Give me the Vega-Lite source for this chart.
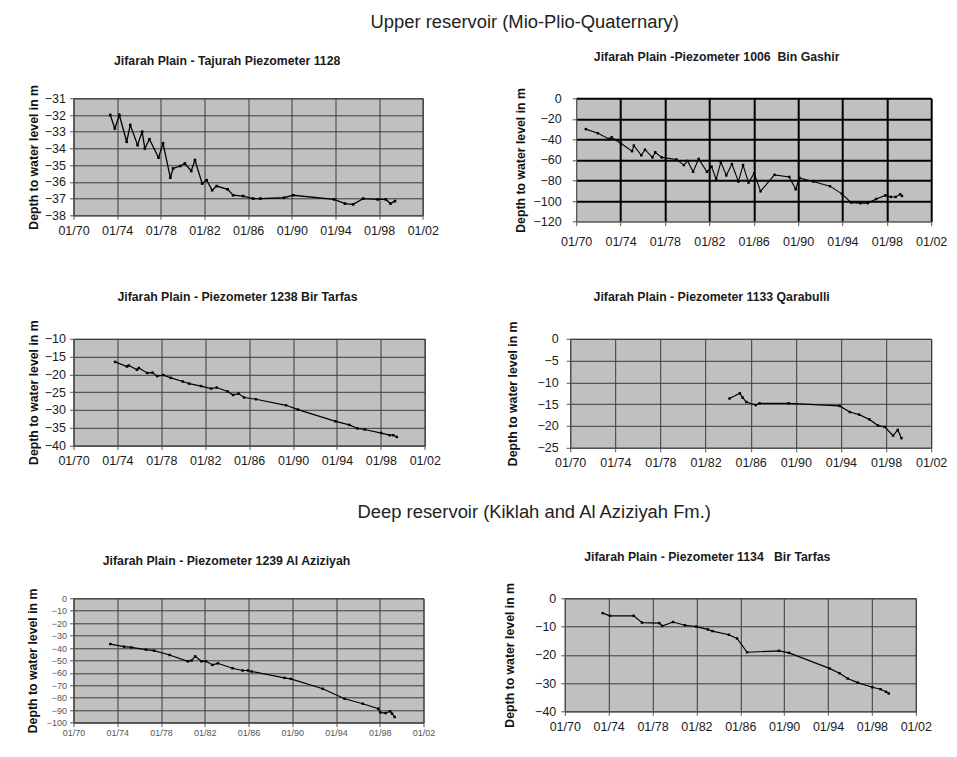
{
  "$schema": "https://vega.github.io/schema/vega-lite/v6.json",
  "background": "white",
  "padding": {"left": 24.5, "top": 12.3, "right": 4, "bottom": 4},
  "datasets": {
    "p1128": [
      {"date": "1973/05/15", "depth": -32.0}, {"date": "1973/10/15", "depth": -32.8},
      {"date": "1974/03/15", "depth": -32.0}, {"date": "1974/11/15", "depth": -33.6},
      {"date": "1975/03/15", "depth": -32.6}, {"date": "1975/11/15", "depth": -33.8},
      {"date": "1976/04/15", "depth": -33.0}, {"date": "1976/07/15", "depth": -34.0},
      {"date": "1976/12/15", "depth": -33.45}, {"date": "1977/10/15", "depth": -34.55},
      {"date": "1978/03/15", "depth": -33.7}, {"date": "1978/11/15", "depth": -35.75},
      {"date": "1979/02/15", "depth": -35.2}, {"date": "1979/10/15", "depth": -35.05},
      {"date": "1980/03/15", "depth": -34.9}, {"date": "1980/10/15", "depth": -35.35},
      {"date": "1981/02/15", "depth": -34.7}, {"date": "1981/10/15", "depth": -36.1},
      {"date": "1982/03/15", "depth": -35.9}, {"date": "1982/09/15", "depth": -36.5},
      {"date": "1983/02/15", "depth": -36.25}, {"date": "1984/02/15", "depth": -36.45},
      {"date": "1984/08/15", "depth": -36.8}, {"date": "1985/07/15", "depth": -36.85},
      {"date": "1986/06/15", "depth": -37.0}, {"date": "1987/02/15", "depth": -37.0},
      {"date": "1989/04/15", "depth": -36.95}, {"date": "1990/02/15", "depth": -36.8},
      {"date": "1993/11/15", "depth": -37.05}, {"date": "1994/11/15", "depth": -37.3},
      {"date": "1995/08/15", "depth": -37.35}, {"date": "1996/07/15", "depth": -37.0},
      {"date": "1997/11/15", "depth": -37.05}, {"date": "1998/08/15", "depth": -37.05},
      {"date": "1999/01/15", "depth": -37.3}, {"date": "1999/06/15", "depth": -37.15}
    ],
    "p1006": [
      {"date": "1970/11/15", "depth": -30}, {"date": "1971/12/15", "depth": -34},
      {"date": "1972/12/15", "depth": -39.5}, {"date": "1973/03/15", "depth": -38},
      {"date": "1974/01/15", "depth": -44}, {"date": "1975/01/15", "depth": -51.5},
      {"date": "1975/03/15", "depth": -46}, {"date": "1975/11/15", "depth": -55.5},
      {"date": "1976/03/15", "depth": -50}, {"date": "1976/11/15", "depth": -57.5},
      {"date": "1977/02/15", "depth": -52.5}, {"date": "1977/09/15", "depth": -57.5},
      {"date": "1979/01/15", "depth": -59.5}, {"date": "1979/09/15", "depth": -65},
      {"date": "1980/01/15", "depth": -61}, {"date": "1980/07/15", "depth": -71.5},
      {"date": "1981/01/15", "depth": -59}, {"date": "1981/10/15", "depth": -71.5},
      {"date": "1982/03/15", "depth": -66.5}, {"date": "1982/08/15", "depth": -79},
      {"date": "1983/01/15", "depth": -62}, {"date": "1983/07/15", "depth": -75},
      {"date": "1984/01/15", "depth": -64}, {"date": "1984/08/15", "depth": -81},
      {"date": "1985/01/15", "depth": -65}, {"date": "1985/07/15", "depth": -82},
      {"date": "1986/01/15", "depth": -73}, {"date": "1986/08/15", "depth": -90.5},
      {"date": "1987/11/15", "depth": -74.5}, {"date": "1989/03/15", "depth": -76.5},
      {"date": "1989/10/15", "depth": -88.5}, {"date": "1990/02/15", "depth": -77.5},
      {"date": "1991/05/15", "depth": -81}, {"date": "1992/11/15", "depth": -85.5},
      {"date": "1993/12/15", "depth": -93}, {"date": "1994/10/15", "depth": -101.5},
      {"date": "1995/08/15", "depth": -102}, {"date": "1996/04/15", "depth": -102},
      {"date": "1997/01/15", "depth": -98}, {"date": "1997/11/15", "depth": -94.5},
      {"date": "1998/05/15", "depth": -96}, {"date": "1998/10/15", "depth": -96},
      {"date": "1999/03/15", "depth": -93.5}, {"date": "1999/05/15", "depth": -95}
    ],
    "p1238": [
      {"date": "1973/10/15", "depth": -16.5}, {"date": "1974/11/15", "depth": -17.8},
      {"date": "1975/01/15", "depth": -17.5}, {"date": "1975/10/15", "depth": -18.7},
      {"date": "1975/12/15", "depth": -18.2}, {"date": "1976/09/15", "depth": -19.6},
      {"date": "1977/03/15", "depth": -19.5}, {"date": "1977/08/15", "depth": -20.5},
      {"date": "1978/03/15", "depth": -20.2}, {"date": "1978/11/15", "depth": -21.0},
      {"date": "1979/12/15", "depth": -22.0}, {"date": "1980/07/15", "depth": -22.6},
      {"date": "1981/08/15", "depth": -23.3}, {"date": "1982/07/15", "depth": -24.0},
      {"date": "1983/01/15", "depth": -23.7}, {"date": "1984/01/15", "depth": -24.8},
      {"date": "1984/07/15", "depth": -25.8}, {"date": "1985/01/15", "depth": -25.4},
      {"date": "1985/07/15", "depth": -26.5}, {"date": "1986/08/15", "depth": -27.0},
      {"date": "1989/05/15", "depth": -28.7}, {"date": "1990/06/15", "depth": -29.9},
      {"date": "1993/11/15", "depth": -33.2}, {"date": "1995/02/15", "depth": -34.2},
      {"date": "1995/11/15", "depth": -35.2}, {"date": "1996/07/15", "depth": -35.5},
      {"date": "1998/01/15", "depth": -36.5}, {"date": "1998/10/15", "depth": -37.1},
      {"date": "1999/02/15", "depth": -37.1}, {"date": "1999/06/15", "depth": -37.6}
    ],
    "p1133": [
      {"date": "1984/02/15", "depth": -13.7}, {"date": "1985/01/15", "depth": -12.5},
      {"date": "1985/04/15", "depth": -13.5}, {"date": "1985/08/15", "depth": -14.5},
      {"date": "1986/06/15", "depth": -15.2}, {"date": "1986/10/15", "depth": -14.8},
      {"date": "1989/05/15", "depth": -14.8}, {"date": "1993/11/15", "depth": -15.4},
      {"date": "1994/10/15", "depth": -16.8}, {"date": "1995/08/15", "depth": -17.4},
      {"date": "1996/07/15", "depth": -18.5}, {"date": "1997/04/15", "depth": -19.9},
      {"date": "1997/11/15", "depth": -20.2}, {"date": "1998/08/15", "depth": -22.2},
      {"date": "1999/01/15", "depth": -20.9}, {"date": "1999/05/15", "depth": -22.8}
    ],
    "p1239": [
      {"date": "1973/05/15", "depth": -36.8}, {"date": "1974/08/15", "depth": -38.9},
      {"date": "1975/04/15", "depth": -39.5}, {"date": "1976/08/15", "depth": -41.3},
      {"date": "1977/05/15", "depth": -42.1}, {"date": "1978/10/15", "depth": -45.6},
      {"date": "1980/06/15", "depth": -50.7}, {"date": "1980/10/15", "depth": -50.1},
      {"date": "1981/02/15", "depth": -46.7}, {"date": "1981/09/15", "depth": -50.7},
      {"date": "1982/02/15", "depth": -50.7}, {"date": "1982/09/15", "depth": -53.6},
      {"date": "1983/03/15", "depth": -52.3}, {"date": "1984/07/15", "depth": -56.3},
      {"date": "1985/06/15", "depth": -58.1}, {"date": "1985/12/15", "depth": -58.1},
      {"date": "1986/04/15", "depth": -58.9}, {"date": "1989/04/15", "depth": -64.0},
      {"date": "1989/11/15", "depth": -64.8}, {"date": "1992/10/15", "depth": -72.8},
      {"date": "1994/10/15", "depth": -80.8}, {"date": "1996/06/15", "depth": -84.8},
      {"date": "1997/11/15", "depth": -88.8}, {"date": "1998/01/15", "depth": -91.8},
      {"date": "1998/07/15", "depth": -92.3}, {"date": "1998/12/15", "depth": -90.9},
      {"date": "1999/02/15", "depth": -92.8}, {"date": "1999/05/15", "depth": -95.5}
    ],
    "p1134": [
      {"date": "1973/06/15", "depth": -5.25}, {"date": "1974/02/15", "depth": -6.2},
      {"date": "1976/04/15", "depth": -6.2}, {"date": "1977/01/15", "depth": -8.6},
      {"date": "1978/08/15", "depth": -8.8}, {"date": "1978/11/15", "depth": -9.8},
      {"date": "1979/11/15", "depth": -8.4}, {"date": "1980/12/15", "depth": -9.55},
      {"date": "1981/12/15", "depth": -10.0}, {"date": "1983/01/15", "depth": -11.0},
      {"date": "1983/06/15", "depth": -11.6}, {"date": "1984/12/15", "depth": -12.9},
      {"date": "1985/09/15", "depth": -14.2}, {"date": "1986/08/15", "depth": -19.1},
      {"date": "1989/07/15", "depth": -18.6}, {"date": "1990/06/15", "depth": -19.3},
      {"date": "1994/02/15", "depth": -24.8}, {"date": "1995/01/15", "depth": -26.5},
      {"date": "1995/10/15", "depth": -28.4}, {"date": "1996/09/15", "depth": -29.85},
      {"date": "1998/01/15", "depth": -31.5}, {"date": "1998/10/15", "depth": -32.2},
      {"date": "1999/04/15", "depth": -33.1}, {"date": "1999/07/15", "depth": -33.7}
    ]
  },
  "vconcat": [
    {
      "title": {"text": "Upper reservoir (Mio-Plio-Quaternary)", "fontSize": 18.4, "fontWeight": "normal", "color": "#222", "frame": "bounds", "anchor": "middle", "dx": 37.5, "offset": 19.8},
      "spacing": 40.5,
      "vconcat": [
        {
          "bounds": "flush",
          "spacing": 152.7,
          "hconcat": [
            {
              "data": {"name": "p1128"},
              "width": 349.3, "height": 117,
              "title": {"text": "Jifarah Plain - Tajurah Piezometer 1128", "dx": -21, "offset": 17.4},
              "layer": [
                {"mark": {"type": "line", "color": "#000", "strokeWidth": 1.3}},
                {"mark": {"type": "point", "shape": "square", "filled": true, "size": 7, "color": "#000", "opacity": 1}}
              ],
              "encoding": {
                "x": {"field": "date", "type": "temporal",
                  "scale": {"domain": [{"year": 1970}, {"year": 2002}]},
                  "axis": {"title": null, "format": "%m/%y", "labelPadding": 5,
                    "values": [{"year": 1970}, {"year": 1974}, {"year": 1978}, {"year": 1982}, {"year": 1986}, {"year": 1990}, {"year": 1994}, {"year": 1998}, {"year": 2002}]}},
                "y": {"field": "depth", "type": "quantitative",
                  "scale": {"domain": [-38, -31], "nice": false, "zero": false},
                  "axis": {"title": "Depth to water level in m", "titleX": -33, "labelPadding": 4,
                    "values": [-38, -37, -36, -35, -34, -33, -32, -31]}}
              }
            },
            {
              "data": {"name": "p1006"},
              "width": 355, "height": 123.3,
              "view": {"stroke": null},
              "title": {"text": "Jifarah Plain -Piezometer 1006 \u00a0Bin Gashir", "dx": -37, "offset": 24.25},
              "layer": [
                {"mark": {"type": "line", "color": "#000", "strokeWidth": 1.1}},
                {"mark": {"type": "point", "shape": "square", "filled": true, "size": 6, "color": "#000", "opacity": 1}}
              ],
              "encoding": {
                "x": {"field": "date", "type": "temporal",
                  "scale": {"domain": [{"year": 1970}, {"year": 2002}]},
                  "axis": {"title": null, "format": "%m/%y", "labelPadding": 10.3,
                    "gridColor": {"condition": {"test": "year(datum.value) == 1970", "value": "#555"}, "value": "#000"},
                    "gridWidth": {"condition": {"test": "year(datum.value) == 1970", "value": 1}, "value": 2},
                    "values": [{"year": 1970}, {"year": 1974}, {"year": 1978}, {"year": 1982}, {"year": 1986}, {"year": 1990}, {"year": 1994}, {"year": 1998}, {"year": 2002}]}},
                "y": {"field": "depth", "type": "quantitative",
                  "scale": {"domain": [-120, 0], "nice": false, "zero": false},
                  "axis": {"title": "Depth to water level in m", "titleX": -48.2, "labelPadding": 11,
                    "gridColor": {"condition": {"test": "datum.value == -120", "value": "#555"}, "value": "#000"},
                    "gridWidth": {"condition": {"test": "datum.value == -120", "value": 1}, "value": 2},
                    "values": [-120, -100, -80, -60, -40, -20, 0]}}
              }
            }
          ]
        },
        {
          "bounds": "flush",
          "spacing": 144.7,
          "hconcat": [
            {
              "data": {"name": "p1238"},
              "width": 351.3, "height": 106.7,
              "title": {"text": "Jifarah Plain - Piezometer 1238 Bir Tarfas", "dx": -11.7, "offset": 16.35},
              "layer": [
                {"mark": {"type": "line", "color": "#000", "strokeWidth": 1.2}},
                {"mark": {"type": "point", "shape": "square", "filled": true, "size": 6, "color": "#000", "opacity": 1}}
              ],
              "encoding": {
                "x": {"field": "date", "type": "temporal",
                  "scale": {"domain": [{"year": 1970}, {"year": 2002}]},
                  "axis": {"title": null, "format": "%m/%y", "labelPadding": 5,
                    "values": [{"year": 1970}, {"year": 1974}, {"year": 1978}, {"year": 1982}, {"year": 1986}, {"year": 1990}, {"year": 1994}, {"year": 1998}, {"year": 2002}]}},
                "y": {"field": "depth", "type": "quantitative",
                  "scale": {"domain": [-40, -10], "nice": false, "zero": false},
                  "axis": {"title": "Depth to water level in m", "titleX": -33, "labelPadding": 4,
                    "values": [-40, -35, -30, -25, -20, -15, -10]}}
              }
            },
            {
              "data": {"name": "p1133"},
              "width": 361, "height": 109,
              "title": {"text": "Jifarah Plain - Piezometer 1133 Qarabulli", "dx": -39, "offset": 17.5},
              "layer": [
                {"mark": {"type": "line", "color": "#000", "strokeWidth": 1.2}},
                {"mark": {"type": "point", "shape": "square", "filled": true, "size": 6, "color": "#000", "opacity": 1}}
              ],
              "encoding": {
                "x": {"field": "date", "type": "temporal",
                  "scale": {"domain": [{"year": 1970}, {"year": 2002}]},
                  "axis": {"title": null, "format": "%m/%y", "labelPadding": 5,
                    "values": [{"year": 1970}, {"year": 1974}, {"year": 1978}, {"year": 1982}, {"year": 1986}, {"year": 1990}, {"year": 1994}, {"year": 1998}, {"year": 2002}]}},
                "y": {"field": "depth", "type": "quantitative",
                  "scale": {"domain": [-25, 0], "nice": false, "zero": false},
                  "axis": {"title": "Depth to water level in m", "titleX": -50.7, "labelPadding": 8,
                    "values": [-25, -20, -15, -10, -5, 0]}}
              }
            }
          ]
        }
      ]
    },
    {
      "title": {"text": "Deep reservoir (Kiklah and Al Aziziyah Fm.)", "fontSize": 18.4, "fontWeight": "normal", "color": "#222", "frame": "bounds", "anchor": "middle", "dx": 55.5, "offset": 29.1},
      "bounds": "flush",
      "spacing": 141.3,
      "hconcat": [
        {
          "data": {"name": "p1239"},
          "width": 350, "height": 124.3,
          "title": {"text": "Jifarah Plain - Piezometer 1239 Al Aziziyah", "dx": -22, "offset": 21.15},
          "layer": [
            {"mark": {"type": "line", "color": "#000", "strokeWidth": 1.2}},
            {"mark": {"type": "point", "shape": "square", "filled": true, "size": 6, "color": "#000", "opacity": 1}}
          ],
          "encoding": {
            "x": {"field": "date", "type": "temporal",
              "scale": {"domain": [{"year": 1970}, {"year": 2002}]},
              "axis": {"title": null, "format": "%m/%y", "labelPadding": 2, "labelFontSize": 9, "labelColor": "#555",
                "values": [{"year": 1970}, {"year": 1974}, {"year": 1978}, {"year": 1982}, {"year": 1986}, {"year": 1990}, {"year": 1994}, {"year": 1998}, {"year": 2002}]}},
            "y": {"field": "depth", "type": "quantitative",
              "scale": {"domain": [-100, 0], "nice": false, "zero": false},
              "axis": {"title": "Depth to water level in m", "titleX": -34.5, "labelPadding": 3, "labelFontSize": 9, "labelColor": "#555",
                "values": [-100, -90, -80, -70, -60, -50, -40, -30, -20, -10, 0]}}
          }
        },
        {
          "data": {"name": "p1134"},
          "width": 351, "height": 113,
          "title": {"text": "Jifarah Plain - Piezometer 1134 \u00a0 Bir Tarfas", "dx": -33, "offset": 18.9},
          "layer": [
            {"mark": {"type": "line", "color": "#000", "strokeWidth": 1.2}},
            {"mark": {"type": "point", "shape": "square", "filled": true, "size": 6, "color": "#000", "opacity": 1}}
          ],
          "encoding": {
            "x": {"field": "date", "type": "temporal",
              "scale": {"domain": [{"year": 1970}, {"year": 2002}]},
              "axis": {"title": null, "format": "%m/%y", "labelPadding": 5,
                "values": [{"year": 1970}, {"year": 1974}, {"year": 1978}, {"year": 1982}, {"year": 1986}, {"year": 1990}, {"year": 1994}, {"year": 1998}, {"year": 2002}]}},
            "y": {"field": "depth", "type": "quantitative",
              "scale": {"domain": [-40, 0], "nice": false, "zero": false},
              "axis": {"title": "Depth to water level in m", "titleX": -47.8, "labelPadding": 5,
                "values": [-40, -30, -20, -10, 0]}}
          }
        }
      ]
    }
  ],
  "spacing": 32,
  "config": {
    "font": "Liberation Sans",
    "view": {"fill": "#c0c0c0", "stroke": "#3a3a3a", "strokeWidth": 1},
    "title": {"font": "Liberation Sans", "fontSize": 12.3, "fontWeight": "bold", "color": "#1a1a1a", "anchor": "middle", "frame": "group"},
    "axis": {
      "labelFont": "Liberation Sans", "labelFontSize": 12.5, "labelColor": "#1a1a1a",
      "titleFont": "Liberation Sans", "titleFontSize": 12.3, "titleFontWeight": "bold", "titleColor": "#111",
      "tickSize": 4, "tickColor": "#555", "domainColor": "#555",
      "grid": true, "gridColor": "#3a3a3a", "gridWidth": 1, "gridOpacity": 1,
      "labelOverlap": false, "labelFlush": false, "labelBound": false
    }
  }
}
